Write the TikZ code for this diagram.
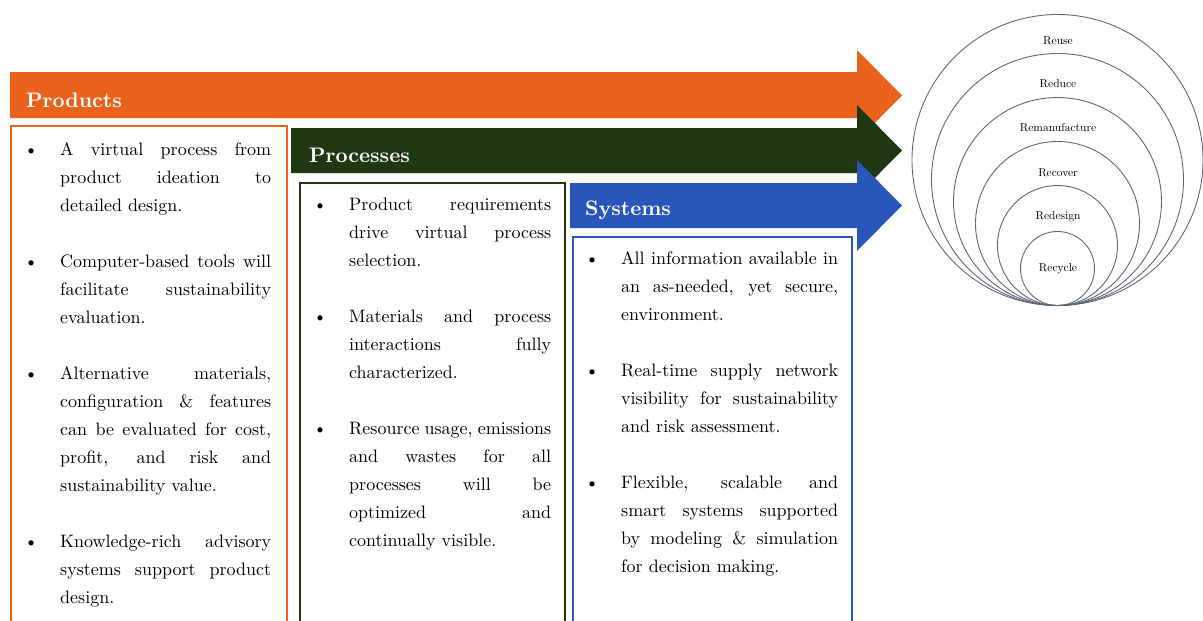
\documentclass[tikz,border=0pt]{standalone}
\usepackage{fontspec}
\setmainfont{lmroman10-regular}[Extension=.otf, BoldFont=lmroman10-bold, ItalicFont=lmroman10-italic]
\definecolor{prodorange}{HTML}{E9631D}
\definecolor{procgreen}{HTML}{1F3812}
\definecolor{sysblue}{HTML}{2856BA}
\definecolor{ringgray}{HTML}{5E6779}
\newcommand{\bulletmark}{\noindent\strut\llap{\textbullet\hspace{22pt}}}
\newcommand{\itemgap}{\par\vspace{28pt}}

\begin{document}
\begin{tikzpicture}[x=1pt, y=-1pt,
    banner/.style={font=\fontsize{21}{25}\selectfont\bfseries, text=white, anchor=base west, inner sep=0},
    listbox/.style={line width=1.6pt},
    listtext/.style={anchor=north west, inner sep=0, align=justify, font=\fontsize{18}{28}\selectfont},
    ring/.style={draw=ringgray, line width=0.9pt},
    ringlabel/.style={font=\fontsize{11.5}{13}\selectfont, inner sep=0}]
    \useasboundingbox (0,0) rectangle (1203,621);
    \clip (0,0) rectangle (1203,621);
    % three arrows
    \fill[prodorange] (10,72) -- (857,72) -- (857,50) -- (902,95.5) -- (857,141) -- (857,118) -- (10,118) -- cycle;
    \fill[procgreen] (291,128) -- (857,128) -- (857,105) -- (902,150.5) -- (857,196) -- (857,173) -- (291,173) -- cycle;
    \fill[sysblue] (570,183) -- (857,183) -- (857,160) -- (902,205.5) -- (857,251) -- (857,228) -- (570,228) -- cycle;
    \node[banner] (prodtitle) at (26,107) {Products};
    \node[banner] (proctitle) at (309,162) {Processes};
    \node[banner] (systitle) at (585,215) {Systems};
    % boxes
    \draw[listbox, prodorange] (11,126) rectangle (287,640);
    \draw[listbox, procgreen] (300,183) rectangle (565,640);
    \draw[listbox, sysblue] (573,237) rectangle (852,640);
    \node[listtext, text width=211pt] (prodlist) at (60,135.4) {%
        \bulletmark A virtual process from\linebreak product ideation to\linebreak detailed design.\itemgap
        \bulletmark Computer-based tools will\linebreak facilitate sustainability\linebreak evaluation.\itemgap
        \bulletmark Alternative materials,\linebreak configuration \& features\linebreak can be evaluated for cost,\linebreak profit, and risk and\linebreak sustainability value.\itemgap
        \bulletmark Knowledge-rich advisory\linebreak systems support product\linebreak design.};
    \node[listtext, text width=202pt] (proclist) at (349,190.4) {%
        \bulletmark Product requirements\linebreak drive virtual process\linebreak selection.\itemgap
        \bulletmark Materials and process\linebreak interactions fully\linebreak characterized.\itemgap
        \bulletmark Resource usage, emissions\linebreak and wastes for all\linebreak processes will be\linebreak optimized and\linebreak continually visible.};
    \node[listtext, text width=217pt] (syslist) at (621,244.4) {%
        \bulletmark All information available in\linebreak an as-needed, yet secure,\linebreak environment.\itemgap
        \bulletmark Real-time supply network\linebreak visibility for sustainability\linebreak and risk assessment.\itemgap
        \bulletmark Flexible, scalable and\linebreak smart systems supported\linebreak by modeling \& simulation\linebreak for decision making.};
    % nested circles
    \draw[ring] (1057.5,160) circle[radius=145.5pt];
    \draw[ring] (1057.5,179.5) circle[radius=126pt];
    \draw[ring] (1057.5,201.5) circle[radius=104pt];
    \draw[ring] (1057.5,223.5) circle[radius=82pt];
    \draw[ring] (1057.5,245.5) circle[radius=60pt];
    \draw[ring] (1057.5,268.5) circle[radius=37pt];
    \node[ringlabel] (reuse) at (1058,41) {Reuse};
    \node[ringlabel] (reduce) at (1058,84) {Reduce};
    \node[ringlabel] (reman) at (1058,128) {Remanufacture};
    \node[ringlabel] (recover) at (1058,173) {Recover};
    \node[ringlabel] (redesign) at (1058,217) {Redesign};
    \node[ringlabel] (recycle) at (1058,269) {Recycle};
\end{tikzpicture}
\end{document}
